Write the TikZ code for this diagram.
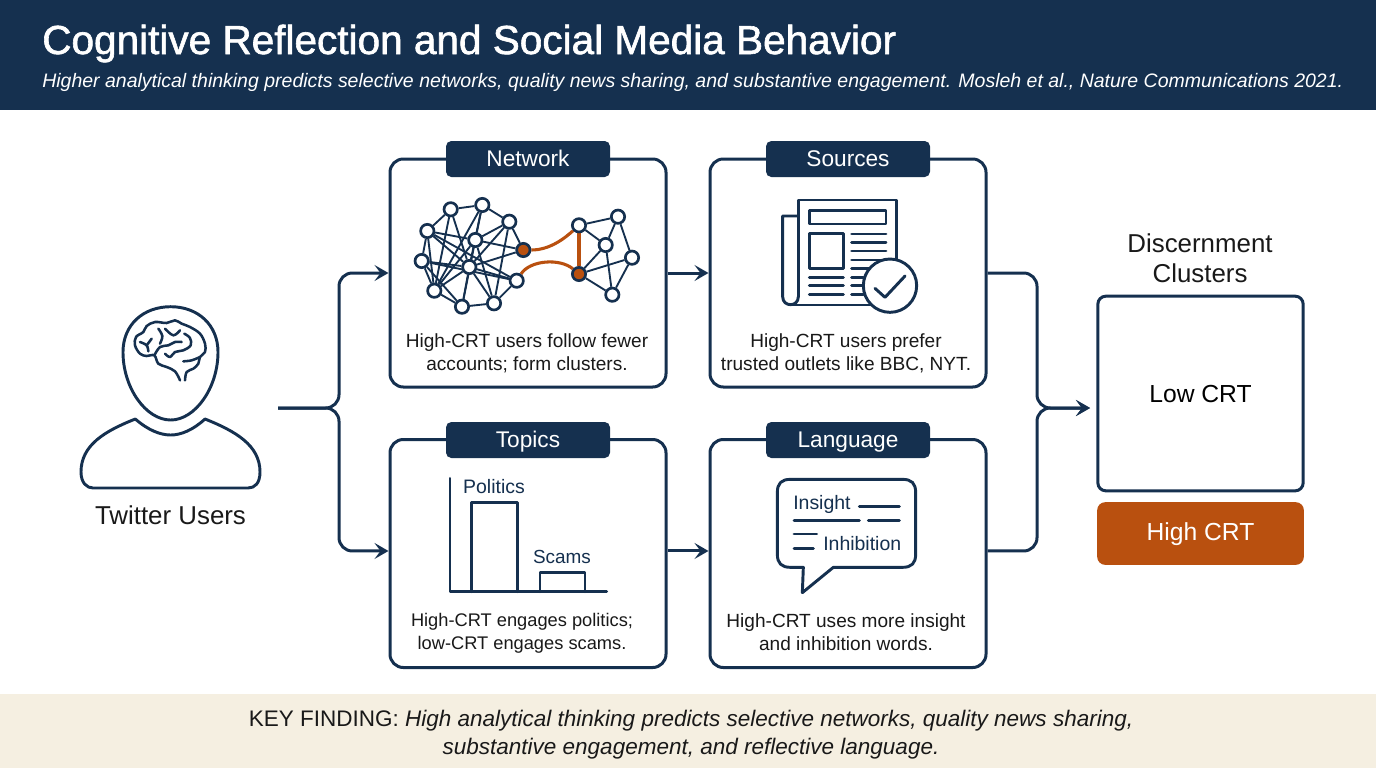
\documentclass[tikz,border=0pt]{standalone}
\usepackage{fontspec}
\setmainfont{Liberation Sans}
\newfontfamily\titlefont[FakeBold=1.5]{Liberation Sans}
\usetikzlibrary{arrows.meta}
\definecolor{navy}{HTML}{15304F}
\definecolor{rust}{HTML}{B9500F}
\definecolor{sand}{HTML}{F5EFE1}
\pgfdeclarelayer{dots}
\pgfsetlayers{main,dots}
\tikzset{
	panel/.style={draw=navy,line width=2.25pt,rounded corners=10pt,fill=white,minimum width=207pt,minimum height=171pt,inner sep=0pt},
	tabnode/.style={fill=navy,text=white,rounded corners=4pt,minimum width=123pt,minimum height=27pt,inner sep=0pt,text height=11pt,text depth=0pt,font=\fontsize{17}{20}\selectfont},
	bodytext/.style={align=center,inner sep=0pt,font=\fontsize{14.3}{17.25}\selectfont,text=black!90},
	bigtext/.style={align=center,inner sep=0pt,font=\fontsize{19.4}{22.5}\selectfont,text=black!90},
	crttext/.style={inner sep=0pt,font=\fontsize{18.5}{22.5}\selectfont},
	icontext/.style={inner sep=0pt,text=navy,font=\fontsize{14.6}{17}\selectfont},
	flow/.style={draw=navy,line width=2.25pt,rounded corners=10pt},
	tip/.style={-{Stealth[length=10.5pt,width=12pt,inset=4.5pt]}},
	dot/.style={circle,draw=navy,line width=2pt,fill=white,minimum size=10pt,inner sep=0pt},
	hubdot/.style={dot,fill=rust},
	icon/.style={draw=navy,line width=2.2pt,line join=round,line cap=round},
}
\begin{document}
\begin{tikzpicture}[x=0.75pt,y=-0.75pt]
	\useasboundingbox (0,0) rectangle (1376,768);
	% bands
	\fill[navy] (0,0) rectangle (1376,110);
	\fill[sand] (0,694) rectangle (1376,768);
	\node[anchor=base west,inner sep=0pt,text=white,font=\titlefont\fontsize{30.4}{36}\selectfont] (title) at (42,54) {Cognitive Reflection and Social Media Behavior};
	\node[anchor=base west,inner sep=0pt,text=white,font=\itshape\fontsize{14.62}{18}\selectfont] (subtitle) at (42,87) {Higher analytical thinking predicts selective networks, quality news sharing, and substantive engagement. Mosleh et al., Nature Communications 2021.};
	\node[bodytext,font=\fontsize{16.88}{21}\selectfont] (finding) at (691,735) {KEY FINDING: \textit{High analytical thinking predicts selective networks, quality news sharing,}\\\textit{substantive engagement, and reflective language.}};

	% panels
	\node[panel] (netbox) at (528,273) {};
	\node[panel] (srcbox) at (848,273) {};
	\node[panel] (topicbox) at (528,553.5) {};
	\node[panel] (langbox) at (848,553.5) {};
	\node[tabnode] (nettab) at (528,159) {Network};
	\node[tabnode] (srctab) at (848,159) {Sources};
	\node[tabnode] (topictab) at (528,440) {Topics};
	\node[tabnode] (langtab) at (848,440) {Language};
	\node[bodytext] (nettext) at (527,353) {High-CRT users follow fewer\\accounts; form clusters.};
	\node[bodytext] (srctext) at (846,353) {High-CRT users prefer\\trusted outlets like BBC, NYT.};
	\node[bodytext,font=\fontsize{13.7}{17.25}\selectfont] (topictext) at (522,633.5) {High-CRT engages politics;\\low-CRT engages scams.};
	\node[bodytext] (langtext) at (846,632) {High-CRT uses more insight\\and inhibition words.};

	% right column
	\node[bigtext] (clustertitle) at (1200,258) {Discernment\\Clusters};
	\node[draw=navy,line width=2.25pt,rounded corners=6pt,minimum width=154pt,minimum height=146pt,crttext] (lowbox) at (1200.5,393.5) {Low CRT};
	\node[fill=rust,rounded corners=6pt,minimum width=155pt,minimum height=47pt,crttext,text=white,text height=13pt,text depth=3pt] (highbox) at (1200.5,533.5) {High CRT};
	\node[bigtext] (users) at (170.5,515) {Twitter Users};

	% connectors
	\coordinate (userout) at (278,408);
	\coordinate (split) at (339,408);
	\coordinate (merge) at (1037,408);
	\coordinate (clusterin) at (1090,408);
	\draw[flow,tip] (userout) -- (split) |- (netbox.west);
	\draw[flow,tip] (userout) -- (split) |- ([yshift=1.9pt]topicbox.west);
	\draw[flow,tip] (netbox.east) -- (srcbox.west);
	\draw[flow,tip] ([yshift=1.9pt]topicbox.east) -- ([yshift=1.9pt]langbox.west);
	\draw[flow,tip] (srcbox.east) -| (merge) -- (clusterin);
	\draw[flow,tip] ([yshift=1.9pt]langbox.east) -| (merge) -- (clusterin);

	% person
	\draw[icon] (170.7,306.7) .. controls (198,306.7) and (218,325) .. (218,352) .. controls (218,388) and (195,420) .. (170.7,420) .. controls (146,420) and (123,388) .. (123,352) .. controls (123,325) and (143,306.7) .. cycle;
	\draw[icon] (135.3,419) .. controls (148,430) and (160,435) .. (170.7,435) .. controls (181,435) and (193,430) .. (205,419) .. controls (235,431) and (260,445) .. (260,472) .. controls (260,483) and (255,488) .. (248,488) -- (93,488) .. controls (87,488) and (81,483) .. (81,472) .. controls (81,445) and (105,431) .. cycle;
	\begin{scope}[shift={(125,312)},x=0.25pt,y=-0.25pt,icon,line width=1.9pt]
		\draw plot[smooth,tension=0.6] coordinates {(165,205) (150,178) (125,165) (100,155) (88,130) (65,132) (45,125) (30,100) (33,75) (55,60) (65,42) (90,30) (125,33) (150,25) (170,35) (195,45) (225,65) (240,95) (240,120) (225,135) (220,155) (205,170) (185,180) (180,205)};
		\draw plot[smooth,tension=0.6] coordinates {(45,90) (65,100) (70,118)};
		\draw (65,100) -- (80,80);
		\draw plot[smooth,tension=0.6] coordinates {(120,50) (145,70) (165,55)};
		\draw plot[smooth,tension=0.6] coordinates {(88,130) (105,105) (130,100) (150,90) (170,90)};
		\draw plot[smooth,tension=0.6] coordinates {(100,50) (112,72) (105,95)};
		\draw plot[smooth,tension=0.6] coordinates {(178,65) (195,78) (197,100) (175,115) (150,120) (135,135) (120,125)};
		\draw plot[smooth,tension=0.6] coordinates {(225,135) (200,145) (175,148)};
	\end{scope}

	% network
	\begin{pgfonlayer}{dots}
	\begin{scope}[every node/.style={dot}]
		\node (n1) at (450.7,209.3) {};
		\node (n2) at (482.3,205) {};
		\node (n3) at (509.3,221.7) {};
		\node (n4) at (427.3,231) {};
		\node (n5) at (475.3,240) {};
		\node (n6) at (421.7,261) {};
		\node (n7) at (469.3,267) {};
		\node (n8) at (434.3,290.7) {};
		\node (n9) at (462,306.7) {};
		\node (n10) at (494,303.3) {};
		\node (n11) at (516.7,280.7) {};
		\node[hubdot] (hub1) at (523.3,250) {};
		\node (m1) at (579,225.3) {};
		\node (m2) at (618,216.7) {};
		\node (m3) at (605.7,245) {};
		\node (m4) at (632,257.7) {};
		\node[hubdot] (hub2) at (579,274) {};
		\node (m6) at (612.3,294.7) {};
	\end{scope}
	\end{pgfonlayer}
	\begin{scope}[every path/.style={draw=navy,line width=1.4pt}]
		\path (n1) edge (n2) edge (n4) edge (n8) edge (n7);
		\path (n2) edge (n3) edge (n5) edge (n8) edge (n7);
		\path (n3) edge (hub1) edge (n5) edge (n7) edge (n10);
		\path (n4) edge (n6) edge (n5) edge (n7) edge (n8) edge (n11);
		\path (n5) edge (hub1) edge (n9) edge (n8) edge (n10);
		\path (n6) edge (n8) edge (n7) edge (n9) edge (n11);
		\path (n7) edge (hub1) edge (n11) edge (n9) edge (n10) edge (n8);
		\path (n8) edge (n9);
		\path (n9) edge (n10);
		\path (n10) edge (n11);
		\path (m1) edge (m2) edge (m3);
		\path (m2) edge (m3) edge (m4);
		\path (m3) edge (hub2) edge (m6);
		\path (m4) edge (hub2) edge (m6);
		\path (hub2) edge (m6);
	\end{scope}
	\draw[rust,line width=2.3pt] (hub1) .. controls (550,250) and (565,238) .. (m1);
	\draw[rust,line width=2.3pt] (n11) .. controls (530,260) and (560,258) .. (hub2);
	\draw[rust,line width=2.3pt] (m1) -- (hub2);

	% newspaper
	\begin{scope}[shift={(770,190)},x=0.25pt,y=-0.25pt,icon]
		\draw (85,320) -- (85,30) -- (380,30) -- (380,215);
		\draw (85,78) -- (38,78) -- (38,320) .. controls (38,352) and (85,352) .. (85,320);
		\draw (60,345) -- (300,345);
		\draw (118,62) rectangle (348,102);
		\draw (118,130) rectangle (220,235);
		\foreach \y in {132,158,183,210,236}
			\draw (245,\y) -- (348,\y);
		\foreach \y in {262,287,313} {
			\draw (118,\y) -- (220,\y);
			\draw (245,\y) -- (280,\y);
		}
		\draw[fill=white] (360,287) circle[radius=80];
		\draw (315,295) -- (345,322) -- (405,258);
	\end{scope}

	% bars
	\begin{scope}[shift={(430,470)},x=0.25pt,y=-0.25pt,icon]
		\draw (60,25) -- (60,365) -- (530,365);
		\draw (125,365) -- (125,97) -- (263,97) -- (263,365);
		\draw (330,365) -- (330,308) -- (465,308) -- (465,365);
	\end{scope}
	\node[icontext] (politics) at (494,487) {Politics};
	\node[icontext,font=\fontsize{14.2}{17}\selectfont] (scams) at (562,557) {Scams};

	% speech bubble
	\begin{scope}[shift={(770,470)},x=0.25pt,y=-0.25pt,icon]
		\draw (62,28) -- (397,28) .. controls (425,28) and (437,40) .. (437,68) -- (437,252) .. controls (437,280) and (425,292) .. (397,292) -- (190,292) -- (97,368) -- (100,292) -- (62,292) .. controls (34,292) and (22,280) .. (22,252) -- (22,68) .. controls (22,40) and (34,28) .. cycle;
		\draw (268,110) -- (388,110);
		\draw (72,152) -- (268,152);
		\draw (295,152) -- (388,152);
		\draw (72,192) -- (140,192);
		\draw (72,236) -- (130,236);
	\end{scope}
	\node[icontext,anchor=west] (insight) at (793,504) {Insight};
	\node[icontext,anchor=west] (inhibition) at (823,543.5) {Inhibition};
\end{tikzpicture}
\end{document}
